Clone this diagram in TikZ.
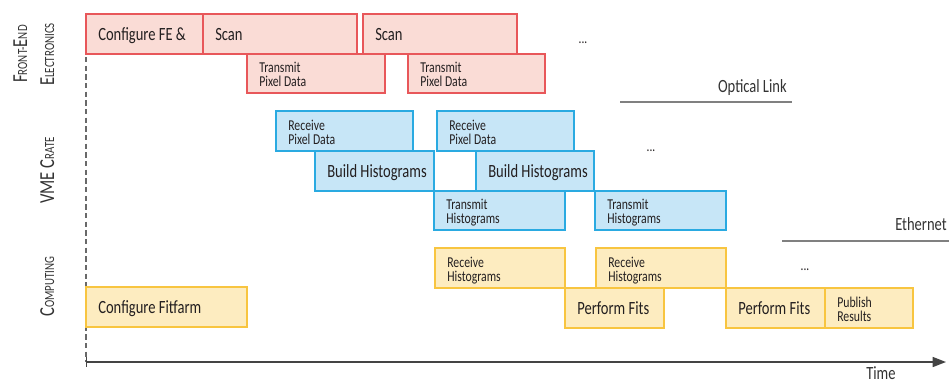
\documentclass[tikz,border=0pt]{standalone}
\usepackage{fontspec}
\setmainfont{Carlito}[FakeStretch=0.78]
\usetikzlibrary{arrows.meta,shadows}

\definecolor{ink}{HTML}{231F20}
\definecolor{labelink}{HTML}{333333}
\definecolor{redfill}{HTML}{FADCD6}
\definecolor{redline}{HTML}{E8575A}
\definecolor{bluefill}{HTML}{C7E6F7}
\definecolor{blueline}{HTML}{2AAAE1}
\definecolor{yelfill}{HTML}{FDECC0}
\definecolor{yelline}{HTML}{F8C540}
\definecolor{axisgray}{HTML}{444444}
\definecolor{linkgray}{HTML}{808080}

% two stacked lines whose reference point is the first baseline
\newcommand\twoln[2]{\vtop{\hbox{#1}\hbox{#2}}}
% hand-made small capitals
\newcommand\capsc[2]{{\fontsize{16}{16}\selectfont #1}{\fontsize{10.5}{10.5}\selectfont #2}}

% task bar with one large label: style, name, x1, y1, x2, y2, text
\newcommand\bigtask[7]{%
  \path[#1] (#3,#4) rectangle (#5,#6);
  \node[bigtxt] (#2) at ({#3+12},{(#4+#6)/2+6.5}) {#7};}
% task bar with a two-line small label
\newcommand\smalltask[8]{%
  \path[#1] (#3,#4) rectangle (#5,#6);
  \node[smalltxt] (#2) at ({#3+12},{(#4+#6)/2-1}) {\twoln{#7}{#8}};}

\begin{document}
\begin{tikzpicture}[x=0.75pt,y=-0.75pt,
  box/.style={line width=0.9pt,
    drop shadow={shadow xshift=1pt, shadow yshift=-1pt, opacity=0.10}},
  fe/.style={box, draw=redline, fill=redfill},
  vme/.style={box, draw=blueline, fill=bluefill},
  comp/.style={box, draw=yelline, fill=yelfill},
  bigtxt/.style={anchor=base west, inner sep=0pt, text=ink,
    font=\fontsize{14}{15}\selectfont},
  smalltxt/.style={anchor=base west, inner sep=0pt, text=ink,
    font=\fontsize{11.3}{10.5}\selectfont},
  dots/.style={inner sep=0pt, text=ink, font=\fontsize{11}{11}\selectfont},
  linktxt/.style={anchor=base east, inner sep=0pt, text=labelink,
    font=\fontsize{14}{15}\selectfont},
  lane/.style={rotate=90, anchor=base, inner sep=0pt, text=labelink},
  linkline/.style={draw=linkgray, line width=0.8pt}]

\useasboundingbox (0,0) rectangle (949,383);

% time axis and start marker
\draw[axisgray!80, line width=0.8pt, dash pattern=on 4pt off 2.5pt] (86,57) -- (86,362);
\coordinate (t0) at (86,362);
\coordinate (t1) at (946,362);
\draw[axisgray, line width=1.1pt, {Bar[width=7pt]}-{Triangle[length=10pt,width=7.5pt]}] (t0) -- (t1);
\node[anchor=base west, inner sep=0pt, text=labelink, font=\fontsize{14}{15}\selectfont] (time) at (866,379) {Time};

% lane titles
\node[lane] (laneFE1) at (27,54) {\capsc{F}{RONT-}\capsc{E}{ND}};
\node[lane] (laneFE2) at (54,54.5) {\capsc{E}{LECTRONICS}};
\node[lane] (laneVME) at (54,170.5) {\capsc{VME C}{RATE}};
\node[lane] (laneCMP) at (54,286.5) {\capsc{C}{OMPUTING}};

% front-end electronics
\bigtask{fe}{cfgfe}{86}{14}{203}{54}{Configure FE \&}
\bigtask{fe}{scanA}{203}{14}{357}{54}{Scan}
\bigtask{fe}{scanB}{363}{14}{517}{54}{Scan}
\smalltask{fe}{txpixA}{247}{54}{385}{93}{Transmit}{Pixel Data}
\smalltask{fe}{txpixB}{408}{54}{545}{93}{Transmit}{Pixel Data}
\node[dots] (dotsFE) at (583,43) {...};

% optical link between front-end and crate
\node[linktxt] (optical) at (787,92) {Optical Link};
\coordinate (olA) at (620,102);
\coordinate (olB) at (792,102);
\draw[linkline] (olA) -- (olB);

% VME crate
\smalltask{vme}{rxpixA}{276}{111}{413}{151}{Receive}{Pixel Data}
\bigtask{vme}{histA}{315}{151}{434}{191}{Build Histograms}
\smalltask{vme}{rxpixB}{437}{111}{574}{151}{Receive}{Pixel Data}
\bigtask{vme}{histB}{476}{151}{594}{191}{Build Histograms}
\smalltask{vme}{txhistA}{434}{191}{565}{230}{Transmit}{Histograms}
\smalltask{vme}{txhistB}{595}{191}{726}{230}{Transmit}{Histograms}
\node[dots] (dotsVME) at (651,151) {...};

% ethernet between crate and computing
\node[linktxt] (ethernet) at (947,230) {Ethernet};
\coordinate (etA) at (782,241);
\coordinate (etB) at (949,241);
\draw[linkline] (etA) -- (etB);

% computing
\smalltask{comp}{rxhistA}{435}{248}{565}{288}{Receive}{Histograms}
\smalltask{comp}{rxhistB}{596}{248}{726}{288}{Receive}{Histograms}
\bigtask{comp}{cfgfarm}{86}{287}{247}{327}{Configure Fitfarm}
\bigtask{comp}{fitA}{565}{288}{664}{328}{Perform Fits}
\bigtask{comp}{fitB}{726}{288}{825}{328}{Perform Fits}
\smalltask{comp}{publish}{825}{288}{913}{328}{Publish}{Results}
\node[dots] (dotsCMP) at (805,270) {...};

\end{tikzpicture}
\end{document}
